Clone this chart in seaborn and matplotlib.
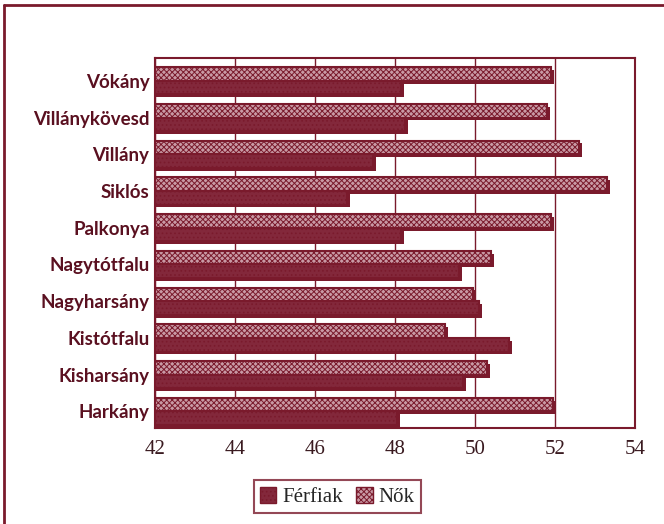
import pandas as pd
import matplotlib
matplotlib.use("Agg")
import matplotlib.pyplot as plt
import matplotlib.patheffects as pe
from matplotlib.patches import Patch
import seaborn as sns

telepulesek = ['Vókány', 'Villánykövesd', 'Villány', 'Siklós', 'Palkonya',
               'Nagytótfalu', 'Nagyharsány', 'Kistótfalu', 'Kisharsány', 'Harkány']
nok = [51.9, 51.8, 52.6, 53.3, 51.9, 50.4, 49.95, 49.25, 50.3, 51.95]
ferfiak = [48.15, 48.25, 47.45, 46.8, 48.15, 49.6, 50.1, 50.85, 49.7, 48.05]
xticks = [42, 44, 46, 48, 50, 52, 54]

maroon = '#7a1a2c'
df = pd.DataFrame({'Település': telepulesek * 2,
                   'Érték': nok + ferfiak,
                   'Nem': ['Nők'] * len(nok) + ['Férfiak'] * len(ferfiak)})

sns.set_style("white")
plt.rcParams['hatch.linewidth'] = 0.7
plt.rcParams['hatch.color'] = maroon
fig = plt.figure(figsize=(6.64, 5.24), dpi=100)
ax = fig.add_axes([0.2334, 0.1832, 0.7229, 0.7061])

ax = sns.barplot(data=df, x='Érték', y='Település', hue='Nem', hue_order=['Nők', 'Férfiak'],
                 order=telepulesek, orient='h', width=0.74, ax=ax, legend=False)
face = {'Nők': '#c99aa5', 'Férfiak': '#83283b'}
hatch = {'Nők': 'xxxxxx', 'Férfiak': '....'}
for cont, nem in zip(ax.containers, ['Nők', 'Férfiak']):
    for bar in cont:
        bar.set_facecolor(face[nem])
        bar.set_edgecolor(maroon)
        bar.set_hatch(hatch[nem])
        bar.set_linewidth(1.5)
        bar.set_path_effects([pe.SimplePatchShadow(offset=(2, -2), shadow_rgbFace=maroon, alpha=1), pe.Normal()])

ax.set_xlim(42, 54)
ax.set_ylim(9.45, -0.62)
ax.set_xticks(xticks)
ax.set_xticklabels([str(t) for t in xticks], fontsize=15, family='Liberation Serif', color='#3a1a20')
ax.set_yticklabels(telepulesek, fontsize=13.5, family='Lato', fontweight='bold', color='#5a1020')
ax.set_xlabel('')
ax.set_ylabel('')
ax.set_axisbelow(True)
ax.xaxis.grid(True, color=maroon, lw=1)
ax.tick_params(axis='x', length=5, color=maroon, direction='inout', pad=6)
ax.tick_params(axis='y', length=0, pad=4)
for s in ax.spines.values():
    s.set_color(maroon)
    s.set_linewidth(1.5)

handles = [Patch(facecolor=face['Férfiak'], edgecolor=maroon, hatch=hatch['Férfiak'], label='Férfiak'),
           Patch(facecolor=face['Nők'], edgecolor=maroon, hatch=hatch['Nők'], label='Nők')]
leg = fig.legend(handles=handles, loc='center', bbox_to_anchor=(0.508, 0.052), ncol=2,
                 frameon=True, fancybox=False, prop={'family': 'Liberation Serif', 'size': 15},
                 handlelength=0.8, handleheight=0.8, handletextpad=0.3, columnspacing=0.6,
                 borderpad=0.3)
leg.get_frame().set_edgecolor(maroon)
leg.get_frame().set_linewidth(1.5)

fig.add_artist(plt.Line2D([0.006, 0.006], [0.0, 0.99], color=maroon, lw=2))
fig.add_artist(plt.Line2D([0.006, 1.0], [0.99, 0.99], color=maroon, lw=2))

plt.savefig('out.png', dpi=100)
